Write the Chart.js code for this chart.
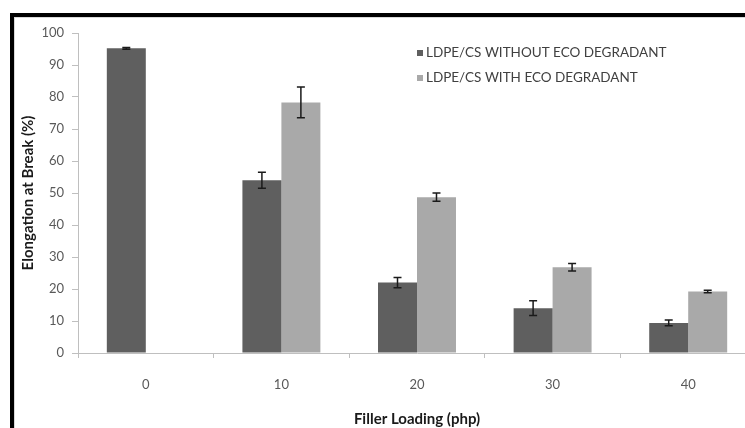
<!DOCTYPE html>
<html>
<head>
<meta charset="utf-8">
<script src="https://cdn.jsdelivr.net/npm/chart.js@4.4.1/dist/chart.umd.min.js"></script>
<style>
    html, body { margin: 0; padding: 0; background: #fff; overflow: hidden; width: 745px; height: 428px; }
    #frame { position: absolute; left: 10px; top: 13px; width: 800px; height: 500px; border-top: 4px solid #000; border-left: 4px solid #000; }
    #inner { position: absolute; left: 14px; top: 17px; width: 800px; height: 500px; border-top: 1px solid #d9d9d9; border-left: 1px solid #d9d9d9; }
    #wrap { position: absolute; left: 0; top: 0; width: 756px; height: 428px; }
</style>
</head>
<body>
<div id="frame"></div>
<div id="inner"></div>
<div id="wrap"><canvas id="myChart"></canvas></div>
<script>
const labels = ['0', '10', '20', '30', '40'];
const withoutEco = [95.2, 54, 22, 14, 9.4];
const withoutEcoErr = [0.3, 2.5, 1.6, 2.3, 0.9];
const withEco = [null, 78.3, 48.7, 26.8, 19.2];
const withEcoErr = [null, 4.8, 1.3, 1.2, 0.4];

const FONT = 'Lato, "Open Sans", sans-serif';

// error bars drawn on top of each bar
const errorBars = {
    id: 'errorBars',
    afterDatasetsDraw(chart) {
        const c = chart.ctx;
        const y = chart.scales.y;
        c.save();
        c.strokeStyle = '#1a1a1a';
        c.lineWidth = 1.5;
        chart.data.datasets.forEach((ds, i) => {
            const meta = chart.getDatasetMeta(i);
            meta.data.forEach((bar, j) => {
                const v = ds.data[j];
                const e = ds.errors[j];
                if (v == null || e == null) return;
                const top = y.getPixelForValue(v + e);
                const bot = y.getPixelForValue(v - e);
                c.beginPath();
                c.moveTo(bar.x, top); c.lineTo(bar.x, bot);
                c.moveTo(bar.x - 4, top); c.lineTo(bar.x + 4, top);
                c.moveTo(bar.x - 4, bot); c.lineTo(bar.x + 4, bot);
                c.stroke();
            });
        });
        c.restore();
    }
};

// legend inside the plot, like the original
const innerLegend = {
    id: 'innerLegend',
    afterDraw(chart) {
        const c = chart.ctx;
        c.save();
        c.font = '13.5px ' + FONT;
        c.textBaseline = 'middle';
        chart.data.datasets.forEach((ds, i) => {
            const yy = 53 + i * 25;
            c.fillStyle = ds.backgroundColor;
            c.fillRect(417, yy - 3, 6, 6);
            c.fillStyle = '#404040';
            c.fillText(ds.label, 426, yy);
        });
        c.restore();
    }
};

const ctx = document.getElementById('myChart').getContext('2d');

new Chart(ctx, {
    type: 'bar',
    data: {
        labels: labels,
        datasets: [
            {
                label: 'LDPE/CS WITHOUT ECO DEGRADANT',
                data: withoutEco,
                errors: withoutEcoErr,
                backgroundColor: '#5f5f5f'
            },
            {
                label: 'LDPE/CS WITH ECO DEGRADANT',
                data: withEco,
                errors: withEcoErr,
                backgroundColor: '#a9a9a9'
            }
        ]
    },
    options: {
        responsive: true,
        maintainAspectRatio: false,
        animation: false,
        layout: { padding: { top: 33, left: 0, right: 0, bottom: 0 } },
        datasets: { bar: { categoryPercentage: 0.575, barPercentage: 1 } },
        scales: {
            x: {
                afterFit: (s) => { s.height = 75; },
                grid: { offset: true, drawOnChartArea: false, tickLength: 5, color: '#bfbfbf' },
                border: { color: '#bfbfbf' },
                ticks: { color: '#595959', font: { family: FONT, size: 13 }, padding: 19 },
                title: {
                    display: true,
                    text: 'Filler Loading (php)',
                    color: '#1a1a1a',
                    font: { family: FONT, size: 15, weight: 'bold' },
                    padding: { top: 0, bottom: 0 }
                }
            },
            y: {
                min: 0,
                max: 100,
                afterFit: (s) => { s.width = 78; },
                grid: { drawOnChartArea: false, tickLength: 6, color: '#bfbfbf' },
                border: { color: '#bfbfbf' },
                ticks: { stepSize: 10, color: '#595959', font: { family: FONT, size: 13 }, padding: 8 },
                title: {
                    display: true,
                    text: 'Elongation at Break (%)',
                    color: '#1a1a1a',
                    font: { family: FONT, size: 15, weight: 'bold' },
                    padding: { top: 19, bottom: 0 }
                }
            }
        },
        plugins: {
            legend: { display: false },
            tooltip: { enabled: false }
        }
    },
    plugins: [errorBars, innerLegend]
});
</script>
</body>
</html>
